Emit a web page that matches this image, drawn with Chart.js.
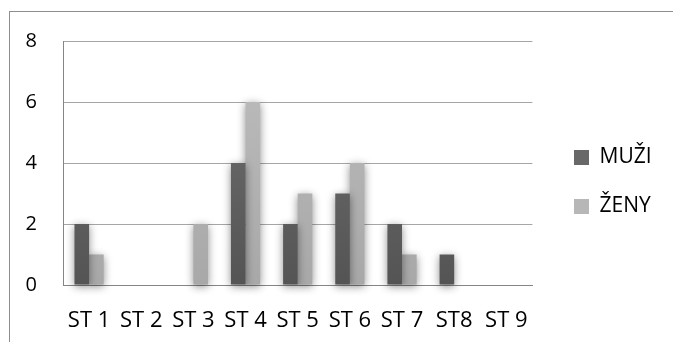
<!DOCTYPE html>
<html>
<head>
<meta charset="utf-8">
<title>MUŽI / ŽENY</title>
<script src="https://cdn.jsdelivr.net/npm/chart.js@4/dist/chart.umd.min.js"></script>
<style>
  html, body { margin: 0; padding: 0; background: #fff; }
  #wrap { position: relative; width: 673px; height: 342px; overflow: hidden; }
  #frame { position: absolute; left: 9px; top: 11px; width: 720px; height: 400px;
           border-top: 1px solid #8e8e8e; border-left: 1px solid #8e8e8e; }
  #c { position: absolute; left: 0; top: 0; }
</style>
</head>
<body>
<div id="wrap">
  <div id="frame"></div>
  <canvas id="c" width="673" height="342"></canvas>
</div>
<script>
// Categories and counts per group
const categories = ['ST 1', 'ST 2', 'ST 3', 'ST 4', 'ST 5', 'ST 6', 'ST 7', 'ST8', 'ST 9'];
const muzi = [2, 0, 0, 4, 2, 3, 2, 1, 0];
const zeny = [1, 0, 2, 6, 3, 4, 1, 0, 0];
const yTicks = [0, 2, 4, 6, 8];

const FONT = "'Open Sans', 'DejaVu Sans', sans-serif";

// Vertical shading for the bars, spanning the plot area
function shade(top, bottom, flat) {
  return (ctx) => {
    const area = ctx.chart.chartArea;
    if (!area) return flat;
    const g = ctx.chart.ctx.createLinearGradient(0, area.top, 0, area.bottom);
    g.addColorStop(0, top);
    g.addColorStop(1, bottom);
    return g;
  };
}

// Soft drop shadow under the bars
const barShadow = {
  id: 'barShadow',
  beforeDatasetsDraw(chart) {
    const c = chart.ctx;
    c.save();
    c.shadowColor = 'rgba(0,0,0,0.45)';
    c.shadowBlur = 8;
    c.shadowOffsetX = 0;
    c.shadowOffsetY = 2;
  },
  afterDatasetsDraw(chart) {
    chart.ctx.restore();
  }
};

// Places the legend block at a fixed spot to the right of the plot
const legendPlace = {
  id: 'legendPlace',
  afterLayout(chart, args, opts) {
    const lg = chart.legend;
    if (!lg) return;
    const pad = lg.options.labels.padding;
    const dx = opts.itemsLeft - pad - lg.left;
    const dy = opts.itemsTop - pad - lg.top;
    lg.left += dx; lg.right += dx;
    lg.top += dy; lg.bottom += dy;
  }
};

new Chart(document.getElementById('c'), {
  type: 'bar',
  data: {
    labels: categories,
    datasets: [
      {
        label: 'MUŽI',
        data: muzi,
        backgroundColor: shade('#737373', '#545454', '#666666'),
        borderWidth: 0,
        clip: false
      },
      {
        label: 'ŽENY',
        data: zeny,
        backgroundColor: shade('#bebebe', '#a8a8a8', '#b5b5b5'),
        borderWidth: 0,
        clip: false
      }
    ]
  },
  options: {
    responsive: false,
    devicePixelRatio: 1,
    animation: false,
    events: [],
    layout: { padding: { top: 41, left: 0, right: 25, bottom: 0 } },
    datasets: {
      bar: { categoryPercentage: 0.56, barPercentage: 1.0 }
    },
    scales: {
      x: {
        grid: { display: false, drawTicks: false },
        border: { display: true, color: '#858585', width: 1 },
        ticks: {
          color: '#000',
          font: { family: FONT, size: 22 },
          padding: 23,
          maxRotation: 0,
          autoSkip: false
        },
        afterFit(scale) { scale.height = 57; }
      },
      y: {
        min: 0,
        max: 8,
        afterBuildTicks(scale) { scale.ticks = yTicks.map(v => ({ value: v })); },
        grid: { color: '#a6a6a6', lineWidth: 1, drawTicks: false },
        border: { display: true, color: '#858585', width: 1 },
        ticks: {
          color: '#000',
          font: { family: FONT, size: 20 },
          padding: 26
        },
        afterFit(scale) { scale.width = 63; }
      }
    },
    plugins: {
      tooltip: { enabled: false },
      legend: {
        position: 'right',
        align: 'start',
        labels: {
          color: '#000',
          font: { family: FONT, size: 21 },
          boxWidth: 15,
          boxHeight: 15,
          padding: 28,
          generateLabels(chart) {
            const flat = ['#686868', '#b7b7b7'];
            return chart.data.datasets.map((ds, i) => ({
              text: ds.label,
              fillStyle: flat[i],
              strokeStyle: flat[i],
              lineWidth: 0,
              hidden: false,
              datasetIndex: i
            }));
          }
        }
      },
      legendPlace: { itemsLeft: 574, itemsTop: 147 }
    }
  },
  plugins: [barShadow, legendPlace]
});
</script>
</body>
</html>
